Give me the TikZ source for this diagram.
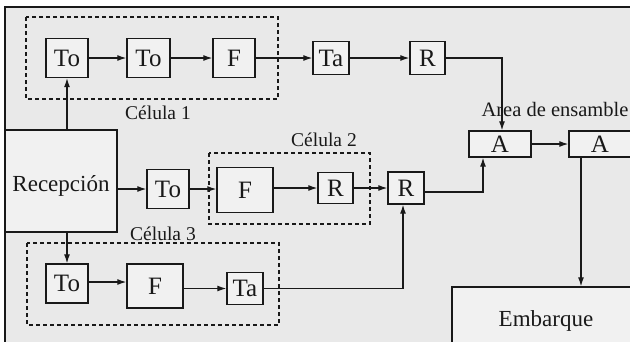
\documentclass[tikz,border=0pt]{standalone}
\usepackage{fontspec}
\setmainfont{Liberation Serif}
\usetikzlibrary{arrows.meta}
\definecolor{bgpaper}{RGB}{233,233,233}
\definecolor{boxfill}{RGB}{241,241,241}
\definecolor{inkc}{RGB}{25,25,25}
\tikzset{
  stbox/.style={draw=inkc, fill=boxfill, line width=1.3pt, inner sep=0pt, font=\fontsize{25}{25}\selectfont, text=inkc},
  arr/.style={draw=inkc, line width=1.2pt, -{Latex[length=9pt,width=6pt]}},
  cellbox/.style={draw=inkc, line width=1.1pt, dash pattern=on 4pt off 3pt},
  lbl/.style={anchor=base, inner sep=0pt, font=\fontsize{19.5}{19.5}\selectfont, text=inkc},
  biglbl/.style={anchor=base, inner sep=0pt, font=\fontsize{23}{23}\selectfont, text=inkc}
}
\begin{document}
\begin{tikzpicture}[x=1pt,y=-1pt]
\useasboundingbox (0,0) rectangle (630,341);
\clip (0,0) rectangle (630,341);
\fill[white] (0,0) rectangle (630,341);
\fill[bgpaper] (5,7) rectangle (640,350);
\draw[inkc, line width=1.2pt] (5,350) -- (5,7) -- (640,7);

% dashed cells
\draw[cellbox] (26,17) rectangle (278,99);
\draw[cellbox] (209,153) rectangle (370,224);
\draw[cellbox] (27,243) rectangle (279,325);

% row 1
\node[stbox, minimum width=42pt, minimum height=39pt] (to1a) at (67,58) {To};
\node[stbox, minimum width=43pt, minimum height=39pt] (to1b) at (148.5,58) {To};
\node[stbox, minimum width=42pt, minimum height=39pt] (f1) at (234,58) {F};
\node[stbox, minimum width=36pt, minimum height=33pt] (ta1) at (331,58) {Ta};
\node[stbox, minimum width=35pt, minimum height=33pt] (r1) at (427.5,58) {R};

% reception
\node[stbox, minimum width=112pt, minimum height=102pt] (rec) at (61,181) {};
\node[biglbl] (rectext) at (61,191) {Recepción};

% row 2
\node[stbox, minimum width=42pt, minimum height=39pt] (to2) at (168,189) {To};
\node[stbox, minimum width=56pt, minimum height=45pt] (f2) at (245,190) {F};
\node[stbox, minimum width=35pt, minimum height=31pt] (r2a) at (335.5,188) {R};
\node[stbox, minimum width=36pt, minimum height=32pt] (r2b) at (406,188) {R};

% row 3
\node[stbox, minimum width=42pt, minimum height=39pt] (to3) at (67,283.5) {To};
\node[stbox, minimum width=56pt, minimum height=44pt] (f3) at (155,286) {F};
\node[stbox, minimum width=36pt, minimum height=32pt] (ta3) at (245,288.5) {Ta};

% assembly
\node[stbox, minimum width=62pt, minimum height=26pt] (a1) at (500,144) {A};
\node[stbox, minimum width=62pt, minimum height=26pt] (a2) at (600,144) {A};

% shipping
\node[stbox, minimum width=188pt, minimum height=62pt] (emb) at (546,318) {};
\node[biglbl] (embtext) at (546,326) {Embarque};

% labels
\node[lbl] (c1) at (158,119) {Célula 1};
\node[lbl] (c2) at (324,146) {Célula 2};
\node[lbl] (c3) at (163,240) {Célula 3};
\node[lbl, font=\fontsize{20.5}{20.5}\selectfont] (ae) at (555,116) {Area de ensamble};

% connectors
\draw[arr] (rec.north -| to1a) -- (to1a.south);
\draw[arr] (to1a) -- (to1b);
\draw[arr] (to1b) -- (f1);
\draw[arr] (f1) -- (ta1);
\draw[arr] (ta1) -- (r1);
\draw[arr] (r1.east) -| ([xshift=2pt]a1.north);

\draw[arr] (rec.east |- to2) -- (to2.west);
\draw[arr] (to2.east) -- (to2.east -| f2.west);
\draw[arr] (f2.east |- r2a) -- (r2a.west);
\draw[arr] (r2a) -- (r2b);
\draw[arr] ([yshift=-4pt]r2b.east) -| ([xshift=-17pt]a1.south);

\draw[arr] (rec.south -| to3) -- (to3.north);
\draw[arr] ([yshift=1.5pt]to3.east) -- ([yshift=1.5pt]to3.east -| f3.west);
\draw[arr] (f3.east |- ta3) -- (ta3.west);
\draw[arr] (ta3.east) -| ([xshift=-3pt]r2b.south);

\draw[arr] (a1) -- (a2);
\draw[arr] ([xshift=-19pt]a2.south) -- ([xshift=-19pt]a2.south |- emb.north);
\end{tikzpicture}
\end{document}
